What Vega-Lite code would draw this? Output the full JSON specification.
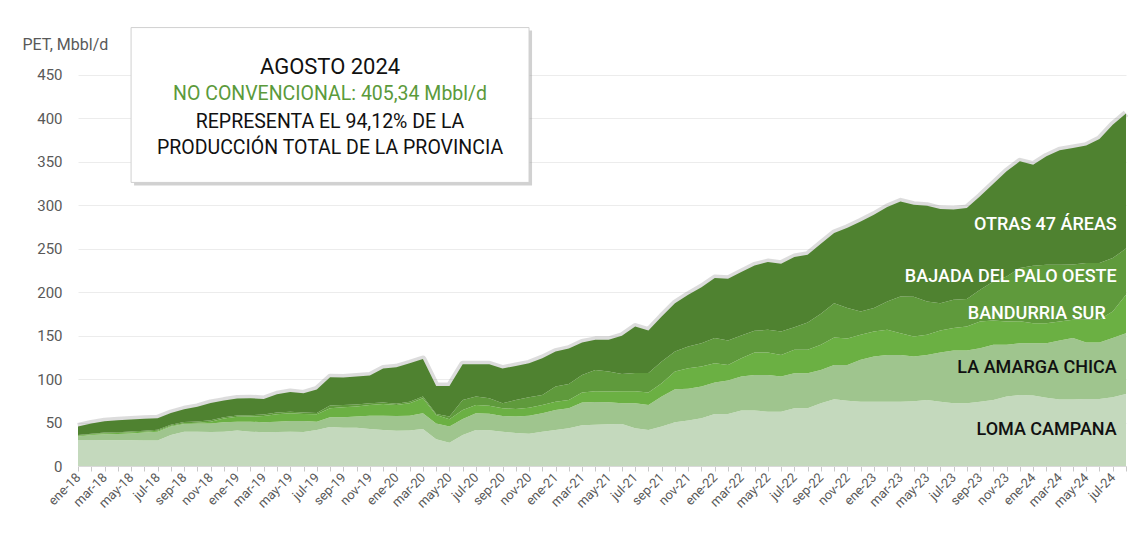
{
"$schema":"https://vega.github.io/schema/vega-lite/v6.json",
"width":1048,"height":448,
"autosize":{"type":"none"},
"padding":{"left":78,"top":18,"right":21,"bottom":69},
"background":"white",
"config":{"view":{"stroke":null},"font":"Roboto"},
"datasets":{
"ser":[{"s":"LC","k":1},{"s":"LAC","k":2},{"s":"BS","k":3},{"s":"BPO","k":4},{"s":"OTR","k":5}],
"prod":[
{"m":"ene-18","s":"LC","v":30},{"m":"feb-18","s":"LC","v":30},{"m":"mar-18","s":"LC","v":29.5},{"m":"abr-18","s":"LC","v":29.5},{"m":"may-18","s":"LC","v":29.5},{"m":"jun-18","s":"LC","v":29.3},{"m":"jul-18","s":"LC","v":29.2},{"m":"ago-18","s":"LC","v":35.7},{"m":"sep-18","s":"LC","v":39.5},{"m":"oct-18","s":"LC","v":39.5},{"m":"nov-18","s":"LC","v":39},{"m":"dic-18","s":"LC","v":39.5},
{"m":"ene-19","s":"LC","v":40.7},{"m":"feb-19","s":"LC","v":39.5},{"m":"mar-19","s":"LC","v":38.7},{"m":"abr-19","s":"LC","v":39},{"m":"may-19","s":"LC","v":39.5},{"m":"jun-19","s":"LC","v":39},{"m":"jul-19","s":"LC","v":41.4},{"m":"ago-19","s":"LC","v":44.7},{"m":"sep-19","s":"LC","v":44},{"m":"oct-19","s":"LC","v":44},{"m":"nov-19","s":"LC","v":42.6},{"m":"dic-19","s":"LC","v":41.4},
{"m":"ene-20","s":"LC","v":40.6},{"m":"feb-20","s":"LC","v":40.9},{"m":"mar-20","s":"LC","v":42.6},{"m":"abr-20","s":"LC","v":30.7},{"m":"may-20","s":"LC","v":26.8},{"m":"jun-20","s":"LC","v":35.7},{"m":"jul-20","s":"LC","v":41.4},{"m":"ago-20","s":"LC","v":41},{"m":"sep-20","s":"LC","v":39.5},{"m":"oct-20","s":"LC","v":38},{"m":"nov-20","s":"LC","v":37.2},{"m":"dic-20","s":"LC","v":39.5},
{"m":"ene-21","s":"LC","v":41.4},{"m":"feb-21","s":"LC","v":43.4},{"m":"mar-21","s":"LC","v":46.8},{"m":"abr-21","s":"LC","v":47.5},{"m":"may-21","s":"LC","v":48},{"m":"jun-21","s":"LC","v":48.3},{"m":"jul-21","s":"LC","v":43.4},{"m":"ago-21","s":"LC","v":41.4},{"m":"sep-21","s":"LC","v":45.3},{"m":"oct-21","s":"LC","v":50.3},{"m":"nov-21","s":"LC","v":52.2},{"m":"dic-21","s":"LC","v":54.9},
{"m":"ene-22","s":"LC","v":59.8},{"m":"feb-22","s":"LC","v":59.8},{"m":"mar-22","s":"LC","v":63.7},{"m":"abr-22","s":"LC","v":63.7},{"m":"may-22","s":"LC","v":62.5},{"m":"jun-22","s":"LC","v":62.5},{"m":"jul-22","s":"LC","v":66.4},{"m":"ago-22","s":"LC","v":66.4},{"m":"sep-22","s":"LC","v":72.1},{"m":"oct-22","s":"LC","v":76.7},{"m":"nov-22","s":"LC","v":75},{"m":"dic-22","s":"LC","v":74},
{"m":"ene-23","s":"LC","v":74},{"m":"feb-23","s":"LC","v":74},{"m":"mar-23","s":"LC","v":74},{"m":"abr-23","s":"LC","v":74.5},{"m":"may-23","s":"LC","v":76},{"m":"jun-23","s":"LC","v":74},{"m":"jul-23","s":"LC","v":72.1},{"m":"ago-23","s":"LC","v":72.1},{"m":"sep-23","s":"LC","v":74},{"m":"oct-23","s":"LC","v":76},{"m":"nov-23","s":"LC","v":79.8},{"m":"dic-23","s":"LC","v":81.7},
{"m":"ene-24","s":"LC","v":81},{"m":"feb-24","s":"LC","v":78.6},{"m":"mar-24","s":"LC","v":76.5},{"m":"abr-24","s":"LC","v":76.5},{"m":"may-24","s":"LC","v":77},{"m":"jun-24","s":"LC","v":77},{"m":"jul-24","s":"LC","v":79},{"m":"ago-24","s":"LC","v":82.9},

{"m":"ene-18","s":"LAC","v":3.8},{"m":"feb-18","s":"LAC","v":5.5},{"m":"mar-18","s":"LAC","v":7.0},{"m":"abr-18","s":"LAC","v":7.3},{"m":"may-18","s":"LAC","v":8.0},{"m":"jun-18","s":"LAC","v":9.2},{"m":"jul-18","s":"LAC","v":10.3},{"m":"ago-18","s":"LAC","v":9.6},{"m":"sep-18","s":"LAC","v":8.8},{"m":"oct-18","s":"LAC","v":9.5},{"m":"nov-18","s":"LAC","v":10.0},{"m":"dic-18","s":"LAC","v":10.7},
{"m":"ene-19","s":"LAC","v":10.3},{"m":"feb-19","s":"LAC","v":11.5},{"m":"mar-19","s":"LAC","v":11.5},{"m":"abr-19","s":"LAC","v":12.0},{"m":"may-19","s":"LAC","v":12.3},{"m":"jun-19","s":"LAC","v":12.8},{"m":"jul-19","s":"LAC","v":9.6},{"m":"ago-19","s":"LAC","v":11.3},{"m":"sep-19","s":"LAC","v":12.0},{"m":"oct-19","s":"LAC","v":12.8},{"m":"nov-19","s":"LAC","v":15.3},{"m":"dic-19","s":"LAC","v":16.5},
{"m":"ene-20","s":"LAC","v":16.9},{"m":"feb-20","s":"LAC","v":17.0},{"m":"mar-20","s":"LAC","v":18.0},{"m":"abr-20","s":"LAC","v":18.3},{"m":"may-20","s":"LAC","v":18.5},{"m":"jun-20","s":"LAC","v":18.3},{"m":"jul-20","s":"LAC","v":19.2},{"m":"ago-20","s":"LAC","v":19.0},{"m":"sep-20","s":"LAC","v":18.0},{"m":"oct-20","s":"LAC","v":18.8},{"m":"nov-20","s":"LAC","v":20.7},{"m":"dic-20","s":"LAC","v":21.1},
{"m":"ene-21","s":"LAC","v":23.1},{"m":"feb-21","s":"LAC","v":23.0},{"m":"mar-21","s":"LAC","v":26.1},{"m":"abr-21","s":"LAC","v":26.0},{"m":"may-21","s":"LAC","v":25.3},{"m":"jun-21","s":"LAC","v":23.8},{"m":"jul-21","s":"LAC","v":28.7},{"m":"ago-21","s":"LAC","v":28.8},{"m":"sep-21","s":"LAC","v":34.5},{"m":"oct-21","s":"LAC","v":38.0},{"m":"nov-21","s":"LAC","v":36.5},{"m":"dic-21","s":"LAC","v":36.4},
{"m":"ene-22","s":"LAC","v":36.1},{"m":"feb-22","s":"LAC","v":38.4},{"m":"mar-22","s":"LAC","v":39.1},{"m":"abr-22","s":"LAC","v":41.0},{"m":"may-22","s":"LAC","v":42.2},{"m":"jun-22","s":"LAC","v":40.3},{"m":"jul-22","s":"LAC","v":40.3},{"m":"ago-22","s":"LAC","v":40.3},{"m":"sep-22","s":"LAC","v":38.4},{"m":"oct-22","s":"LAC","v":39.5},{"m":"nov-22","s":"LAC","v":41.0},{"m":"dic-22","s":"LAC","v":48.0},
{"m":"ene-23","s":"LAC","v":51.8},{"m":"feb-23","s":"LAC","v":53.7},{"m":"mar-23","s":"LAC","v":53.7},{"m":"abr-23","s":"LAC","v":51.3},{"m":"may-23","s":"LAC","v":51.7},{"m":"jun-23","s":"LAC","v":56.4},{"m":"jul-23","s":"LAC","v":60.6},{"m":"ago-23","s":"LAC","v":60.6},{"m":"sep-23","s":"LAC","v":61.4},{"m":"oct-23","s":"LAC","v":63.3},{"m":"nov-23","s":"LAC","v":59.5},{"m":"dic-23","s":"LAC","v":59.5},
{"m":"ene-24","s":"LAC","v":60.2},{"m":"feb-24","s":"LAC","v":62.6},{"m":"mar-24","s":"LAC","v":67.7},{"m":"abr-24","s":"LAC","v":70.5},{"m":"may-24","s":"LAC","v":65.0},{"m":"jun-24","s":"LAC","v":65.0},{"m":"jul-24","s":"LAC","v":68.0},{"m":"ago-24","s":"LAC","v":69.8},

{"m":"ene-18","s":"BS","v":1.1},{"m":"feb-18","s":"BS","v":0.9},{"m":"mar-18","s":"BS","v":1.1},{"m":"abr-18","s":"BS","v":1.0},{"m":"may-18","s":"BS","v":1.2},{"m":"jun-18","s":"BS","v":1.0},{"m":"jul-18","s":"BS","v":1.1},{"m":"ago-18","s":"BS","v":0.9},{"m":"sep-18","s":"BS","v":0.9},{"m":"oct-18","s":"BS","v":0.8},{"m":"nov-18","s":"BS","v":2.0},{"m":"dic-18","s":"BS","v":4.3},
{"m":"ene-19","s":"BS","v":5.5},{"m":"feb-19","s":"BS","v":5.8},{"m":"mar-19","s":"BS","v":7.3},{"m":"abr-19","s":"BS","v":8.5},{"m":"may-19","s":"BS","v":8.8},{"m":"jun-19","s":"BS","v":8.0},{"m":"jul-19","s":"BS","v":8.5},{"m":"ago-19","s":"BS","v":10.4},{"m":"sep-19","s":"BS","v":11.5},{"m":"oct-19","s":"BS","v":11.5},{"m":"nov-19","s":"BS","v":12.3},{"m":"dic-19","s":"BS","v":13.5},
{"m":"ene-20","s":"BS","v":12.7},{"m":"feb-20","s":"BS","v":14.2},{"m":"mar-20","s":"BS","v":17.3},{"m":"abr-20","s":"BS","v":9.7},{"m":"may-20","s":"BS","v":8.4},{"m":"jun-20","s":"BS","v":10.4},{"m":"jul-20","s":"BS","v":9.6},{"m":"ago-20","s":"BS","v":9.4},{"m":"sep-20","s":"BS","v":8.9},{"m":"oct-20","s":"BS","v":8.8},{"m":"nov-20","s":"BS","v":9.1},{"m":"dic-20","s":"BS","v":9.6},
{"m":"ene-21","s":"BS","v":9.5},{"m":"feb-21","s":"BS","v":9.6},{"m":"mar-21","s":"BS","v":11.5},{"m":"abr-21","s":"BS","v":12.5},{"m":"may-21","s":"BS","v":12.2},{"m":"jun-21","s":"BS","v":13.9},{"m":"jul-21","s":"BS","v":13.9},{"m":"ago-21","s":"BS","v":14.2},{"m":"sep-21","s":"BS","v":15.4},{"m":"oct-21","s":"BS","v":20.2},{"m":"nov-21","s":"BS","v":23.7},{"m":"dic-21","s":"BS","v":23.0},
{"m":"ene-22","s":"BS","v":22.3},{"m":"feb-22","s":"BS","v":18.0},{"m":"mar-22","s":"BS","v":21.1},{"m":"abr-22","s":"BS","v":25.7},{"m":"may-22","s":"BS","v":25.7},{"m":"jun-22","s":"BS","v":24.9},{"m":"jul-22","s":"BS","v":26.8},{"m":"ago-22","s":"BS","v":26.8},{"m":"sep-22","s":"BS","v":28.8},{"m":"oct-22","s":"BS","v":31.5},{"m":"nov-22","s":"BS","v":30.5},{"m":"dic-22","s":"BS","v":28.8},
{"m":"ene-23","s":"BS","v":28.8},{"m":"feb-23","s":"BS","v":28.8},{"m":"mar-23","s":"BS","v":25.0},{"m":"abr-23","s":"BS","v":23.0},{"m":"may-23","s":"BS","v":23.1},{"m":"jun-23","s":"BS","v":25.3},{"m":"jul-23","s":"BS","v":25.8},{"m":"ago-23","s":"BS","v":27.6},{"m":"sep-23","s":"BS","v":30.7},{"m":"oct-23","s":"BS","v":27.9},{"m":"nov-23","s":"BS","v":26.8},{"m":"dic-23","s":"BS","v":25.3},
{"m":"ene-24","s":"BS","v":23.0},{"m":"feb-24","s":"BS","v":23.0},{"m":"mar-24","s":"BS","v":21.9},{"m":"abr-24","s":"BS","v":21.0},{"m":"may-24","s":"BS","v":26.0},{"m":"jun-24","s":"BS","v":26.5},{"m":"jul-24","s":"BS","v":30.6},{"m":"ago-24","s":"BS","v":44.3},

{"m":"ene-18","s":"BPO","v":0.8},{"m":"feb-18","s":"BPO","v":0.8},{"m":"mar-18","s":"BPO","v":0.9},{"m":"abr-18","s":"BPO","v":1.0},{"m":"may-18","s":"BPO","v":1.0},{"m":"jun-18","s":"BPO","v":1.0},{"m":"jul-18","s":"BPO","v":1.2},{"m":"ago-18","s":"BPO","v":1.3},{"m":"sep-18","s":"BPO","v":1.3},{"m":"oct-18","s":"BPO","v":1.4},{"m":"nov-18","s":"BPO","v":1.5},{"m":"dic-18","s":"BPO","v":1.5},
{"m":"ene-19","s":"BPO","v":1.5},{"m":"feb-19","s":"BPO","v":1.5},{"m":"mar-19","s":"BPO","v":1.7},{"m":"abr-19","s":"BPO","v":1.9},{"m":"may-19","s":"BPO","v":1.9},{"m":"jun-19","s":"BPO","v":1.8},{"m":"jul-19","s":"BPO","v":1.5},{"m":"ago-19","s":"BPO","v":3.1},{"m":"sep-19","s":"BPO","v":2.7},{"m":"oct-19","s":"BPO","v":2.5},{"m":"nov-19","s":"BPO","v":1.8},{"m":"dic-19","s":"BPO","v":1.6},
{"m":"ene-20","s":"BPO","v":1.3},{"m":"feb-20","s":"BPO","v":1.9},{"m":"mar-20","s":"BPO","v":1.9},{"m":"abr-20","s":"BPO","v":1.1},{"m":"may-20","s":"BPO","v":3.1},{"m":"jun-20","s":"BPO","v":11.6},{"m":"jul-20","s":"BPO","v":9.6},{"m":"ago-20","s":"BPO","v":8.5},{"m":"sep-20","s":"BPO","v":5.6},{"m":"oct-20","s":"BPO","v":10.4},{"m":"nov-20","s":"BPO","v":12.0},{"m":"dic-20","s":"BPO","v":11.5},
{"m":"ene-21","s":"BPO","v":17.3},{"m":"feb-21","s":"BPO","v":18.4},{"m":"mar-21","s":"BPO","v":20.3},{"m":"abr-21","s":"BPO","v":24.5},{"m":"may-21","s":"BPO","v":23.0},{"m":"jun-21","s":"BPO","v":19.9},{"m":"jul-21","s":"BPO","v":21.0},{"m":"ago-21","s":"BPO","v":22.6},{"m":"sep-21","s":"BPO","v":24.8},{"m":"oct-21","s":"BPO","v":23.0},{"m":"nov-21","s":"BPO","v":24.9},{"m":"dic-21","s":"BPO","v":26.9},
{"m":"ene-22","s":"BPO","v":28.8},{"m":"feb-22","s":"BPO","v":28.0},{"m":"mar-22","s":"BPO","v":26.1},{"m":"abr-22","s":"BPO","v":25.0},{"m":"may-22","s":"BPO","v":26.1},{"m":"jun-22","s":"BPO","v":26.9},{"m":"jul-22","s":"BPO","v":26.1},{"m":"ago-22","s":"BPO","v":31.5},{"m":"sep-22","s":"BPO","v":35.7},{"m":"oct-22","s":"BPO","v":39.5},{"m":"nov-22","s":"BPO","v":35.0},{"m":"dic-22","s":"BPO","v":26.8},
{"m":"ene-23","s":"BPO","v":26.9},{"m":"feb-23","s":"BPO","v":32.6},{"m":"mar-23","s":"BPO","v":42.2},{"m":"abr-23","s":"BPO","v":45.7},{"m":"may-23","s":"BPO","v":38.3},{"m":"jun-23","s":"BPO","v":31.5},{"m":"jul-23","s":"BPO","v":32.5},{"m":"ago-23","s":"BPO","v":31.7},{"m":"sep-23","s":"BPO","v":36.5},{"m":"oct-23","s":"BPO","v":44.9},{"m":"nov-23","s":"BPO","v":51.8},{"m":"dic-23","s":"BPO","v":61.0},
{"m":"ene-24","s":"BPO","v":66.0},{"m":"feb-24","s":"BPO","v":67.1},{"m":"mar-24","s":"BPO","v":65.2},{"m":"abr-24","s":"BPO","v":63.5},{"m":"may-24","s":"BPO","v":65.3},{"m":"jun-24","s":"BPO","v":65.0},{"m":"jul-24","s":"BPO","v":61.4},{"m":"ago-24","s":"BPO","v":53.0},

{"m":"ene-18","s":"OTR","v":9.8},{"m":"feb-18","s":"OTR","v":11.8},{"m":"mar-18","s":"OTR","v":13.0},{"m":"abr-18","s":"OTR","v":13.7},{"m":"may-18","s":"OTR","v":13.8},{"m":"jun-18","s":"OTR","v":13.7},{"m":"jul-18","s":"OTR","v":13.0},{"m":"ago-18","s":"OTR","v":13.3},{"m":"sep-18","s":"OTR","v":14.7},{"m":"oct-18","s":"OTR","v":16.8},{"m":"nov-18","s":"OTR","v":20.0},{"m":"dic-18","s":"OTR","v":19.2},
{"m":"ene-19","s":"OTR","v":19.5},{"m":"feb-19","s":"OTR","v":19.7},{"m":"mar-19","s":"OTR","v":17.8},{"m":"abr-19","s":"OTR","v":21.1},{"m":"may-19","s":"OTR","v":22.5},{"m":"jun-19","s":"OTR","v":21.9},{"m":"jul-19","s":"OTR","v":27.0},{"m":"ago-19","s":"OTR","v":32.5},{"m":"sep-19","s":"OTR","v":31.6},{"m":"oct-19","s":"OTR","v":32.2},{"m":"nov-19","s":"OTR","v":32.0},{"m":"dic-19","s":"OTR","v":39.0},
{"m":"ene-20","s":"OTR","v":42.0},{"m":"feb-20","s":"OTR","v":44.0},{"m":"mar-20","s":"OTR","v":43.2},{"m":"abr-20","s":"OTR","v":32.2},{"m":"may-20","s":"OTR","v":35.2},{"m":"jun-20","s":"OTR","v":41.0},{"m":"jul-20","s":"OTR","v":37.2},{"m":"ago-20","s":"OTR","v":39.1},{"m":"sep-20","s":"OTR","v":40.0},{"m":"oct-20","s":"OTR","v":39.0},{"m":"nov-20","s":"OTR","v":39.0},{"m":"dic-20","s":"OTR","v":42.3},
{"m":"ene-21","s":"OTR","v":40.2},{"m":"feb-21","s":"OTR","v":40.6},{"m":"mar-21","s":"OTR","v":37.3},{"m":"abr-21","s":"OTR","v":34.5},{"m":"may-21","s":"OTR","v":36.5},{"m":"jun-21","s":"OTR","v":43.7},{"m":"jul-21","s":"OTR","v":53.3},{"m":"ago-21","s":"OTR","v":48.7},{"m":"sep-21","s":"OTR","v":51.8},{"m":"oct-21","s":"OTR","v":55.7},{"m":"nov-21","s":"OTR","v":59.5},{"m":"dic-21","s":"OTR","v":64.4},
{"m":"ene-22","s":"OTR","v":69.0},{"m":"feb-22","s":"OTR","v":71.0},{"m":"mar-22","s":"OTR","v":72.9},{"m":"abr-22","s":"OTR","v":75.1},{"m":"may-22","s":"OTR","v":77.9},{"m":"jun-22","s":"OTR","v":77.9},{"m":"jul-22","s":"OTR","v":80.6},{"m":"ago-22","s":"OTR","v":77.8},{"m":"sep-22","s":"OTR","v":80.5},{"m":"oct-22","s":"OTR","v":80.6},{"m":"nov-22","s":"OTR","v":92.5},{"m":"dic-22","s":"OTR","v":103.6},
{"m":"ene-23","s":"OTR","v":107.4},{"m":"feb-23","s":"OTR","v":108.6},{"m":"mar-23","s":"OTR","v":109.3},{"m":"abr-23","s":"OTR","v":105.9},{"m":"may-23","s":"OTR","v":110.1},{"m":"jun-23","s":"OTR","v":108.2},{"m":"jul-23","s":"OTR","v":104.0},{"m":"ago-23","s":"OTR","v":104.6},{"m":"sep-23","s":"OTR","v":107.4},{"m":"oct-23","s":"OTR","v":112.4},{"m":"nov-23","s":"OTR","v":120.8},{"m":"dic-23","s":"OTR","v":122.7},
{"m":"ene-24","s":"OTR","v":116.2},{"m":"feb-24","s":"OTR","v":124.7},{"m":"mar-24","s":"OTR","v":131.6},{"m":"abr-24","s":"OTR","v":134.1},{"m":"may-24","s":"OTR","v":135.0},{"m":"jun-24","s":"OTR","v":142.5},{"m":"jul-24","s":"OTR","v":153.4},{"m":"ago-24","s":"OTR","v":155.34}
],
"lblW":[
{"m":"jul-24","y":277,"t":"OTRAS 47 ÁREAS","dx":4},
{"m":"jul-24","y":217.5,"t":"BAJADA DEL PALO OESTE","dx":4},
{"m":"jul-24","y":175,"t":"BANDURRIA SUR","dx":-7}
],
"lblB":[
{"m":"jul-24","y":113,"t":"LA AMARGA CHICA"},
{"m":"jul-24","y":41.4,"t":"LOMA CAMPANA"}
],
"box":[{"m":"may-18","m2":"nov-20","y":326,"y2":504}],
"boxTxt":[
{"m":"ago-19","y":459,"t":"AGOSTO 2024","c":"#111111","fs":22},
{"m":"ago-19","y":428,"t":"NO CONVENCIONAL: 405,34 Mbbl/d","c":"#5b9a3b","fs":19.5},
{"m":"ago-19","y":396,"t":"REPRESENTA EL 94,12% DE LA","c":"#111111","fs":19.5},
{"m":"ago-19","y":366,"t":"PRODUCCIÓN TOTAL DE LA PROVINCIA","c":"#111111","fs":19.5}
]
},
"encoding":{
"x":{"field":"m","type":"ordinal","sort":null,
"scale":{"type":"point","padding":0,"domain":["ene-18","feb-18","mar-18","abr-18","may-18","jun-18","jul-18","ago-18","sep-18","oct-18","nov-18","dic-18","ene-19","feb-19","mar-19","abr-19","may-19","jun-19","jul-19","ago-19","sep-19","oct-19","nov-19","dic-19","ene-20","feb-20","mar-20","abr-20","may-20","jun-20","jul-20","ago-20","sep-20","oct-20","nov-20","dic-20","ene-21","feb-21","mar-21","abr-21","may-21","jun-21","jul-21","ago-21","sep-21","oct-21","nov-21","dic-21","ene-22","feb-22","mar-22","abr-22","may-22","jun-22","jul-22","ago-22","sep-22","oct-22","nov-22","dic-22","ene-23","feb-23","mar-23","abr-23","may-23","jun-23","jul-23","ago-23","sep-23","oct-23","nov-23","dic-23","ene-24","feb-24","mar-24","abr-24","may-24","jun-24","jul-24","ago-24"]},
"axis":{"title":null,"labelAngle":-45,"labelAlign":"right","labelBaseline":"middle","labelOverlap":false,
"labelExpr":"test(/^(ene|mar|may|jul|sep|nov)/, datum.label) ? datum.label : ''",
"labelColor":"#595959","labelFontSize":13,"labelPadding":4,"tickColor":"#c8c8c8","tickSize":5,"domainColor":"#d9d9d9","grid":false}}
},
"layer":[
{"data":{"name":"prod"},
"transform":[{"aggregate":[{"op":"sum","field":"v","as":"t"}],"groupby":["m"]}],
"mark":{"type":"line","stroke":"#8c8c8c","strokeWidth":7,"opacity":0.3,"strokeJoin":"round"},
"encoding":{"y":{"field":"t","type":"quantitative","scale":{"domain":[0,515],"nice":false},
"axis":{"title":"PET, Mbbl/d","titleAngle":0,"titleAlign":"left","titleBaseline":"middle","titleX":-56,"titleY":26,"titleFontWeight":"normal","titleFontSize":16,"titleColor":"#595959",
"values":[0,50,100,150,200,250,300,350,400,450],"labelColor":"#595959","labelFontSize":15,"ticks":false,"domain":false,"gridColor":"#ececec","labelPadding":16}}}},
{"data":{"name":"prod"},
"transform":[{"lookup":"s","from":{"data":{"name":"ser"},"key":"s","fields":["k"]}}],
"mark":{"type":"area","interpolate":"linear"},
"encoding":{
"y":{"field":"v","type":"quantitative","stack":"zero"},
"order":{"field":"k","type":"quantitative","sort":"ascending"},
"color":{"field":"s","type":"nominal","legend":null,
"scale":{"domain":["LC","LAC","BS","BPO","OTR"],"range":["#c4d9bd","#9fc58e","#6bb043","#5f9a3c","#4f8230"]}}}},
{"data":{"name":"lblW"},
"mark":{"type":"text","align":"right","baseline":"middle","color":"white","fontSize":18,"fontWeight":500},
"encoding":{"y":{"field":"y","type":"quantitative"},"text":{"field":"t"},"xOffset":{"field":"dx","type":"quantitative","scale":null}}},
{"data":{"name":"lblB"},
"mark":{"type":"text","align":"right","baseline":"middle","color":"#111111","fontSize":18,"fontWeight":500,"dx":4},
"encoding":{"y":{"field":"y","type":"quantitative"},"text":{"field":"t"}}},
{"data":{"name":"box"},
"mark":{"type":"rect","fill":"#9a9a9a","opacity":0.45,"xOffset":3,"yOffset":3,"x2Offset":3,"y2Offset":3},
"encoding":{"x2":{"field":"m2"},"y":{"field":"y","type":"quantitative"},"y2":{"field":"y2"}}},
{"data":{"name":"box"},
"mark":{"type":"rect","fill":"white","stroke":"#d0d0d0","strokeWidth":1},
"encoding":{"x2":{"field":"m2"},"y":{"field":"y","type":"quantitative"},"y2":{"field":"y2"}}},
{"data":{"name":"boxTxt"},
"mark":{"type":"text","align":"center","baseline":"middle"},
"encoding":{"y":{"field":"y","type":"quantitative"},"text":{"field":"t"},"color":{"field":"c","type":"nominal","scale":null},"size":{"field":"fs","type":"quantitative","scale":null}}}
]
}
